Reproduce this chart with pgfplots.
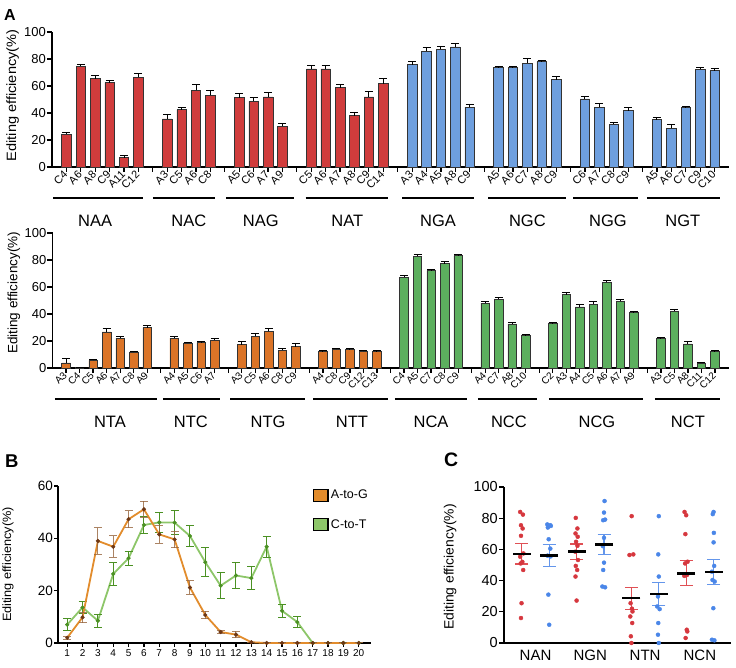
\documentclass[border=0pt]{standalone}
\usepackage{fontspec}
\setmainfont{Liberation Sans}
\usepackage{graphicx}
\usepackage{pgfplots}
\usepackage{pgfplotstable}
\pgfplotsset{compat=1.18, /pgf/number format/assume math mode=true}
\definecolor{cRed}{RGB}{208,60,60}
\definecolor{cBlue}{RGB}{110,159,222}
\definecolor{cOrange}{RGB}{219,116,39}
\definecolor{cGreen}{RGB}{92,175,94}
\definecolor{cAGline}{RGB}{226,140,44}
\definecolor{cAGdot}{RGB}{110,55,20}
\definecolor{cAGerr}{RGB}{150,100,60}
\definecolor{cCTline}{RGB}{141,198,105}
\definecolor{cCTdot}{RGB}{75,145,35}
\definecolor{cCR}{RGB}{214,55,62}
\definecolor{cCB}{RGB}{74,134,232}
\definecolor{cCRe}{RGB}{224,80,85}
\definecolor{cCBe}{RGB}{100,150,235}

\pgfplotstableread{
x y e
1 24.2 1.7
2 74.6 1.2
3 65.4 2.5
4 62.5 1.7
5 6.9 1.5
6 66.4 2.5
8 35.6 3.2
9 42.5 1.9
10 56.8 4.2
11 53.1 3.4
13 51.4 2.9
14 48.6 2.8
15 51.9 3.2
16 30.1 2.0
18 72.6 2.7
19 72.6 2.7
20 58.8 2.2
21 38.0 2.7
22 51.9 4.1
23 61.7 3.7
}\topred
\pgfplotstableread{
x y e
25 75.8 2.0
26 85.9 2.5
27 87.2 2.2
28 88.9 2.5
29 44.4 1.8
31 73.6 0.7
32 73.6 0.7
33 77.0 3.0
34 78.0 0.8
35 64.7 2.0
37 50.4 1.9
38 44.4 2.5
39 31.6 1.0
40 41.7 2.3
42 35.1 1.4
43 28.6 2.8
44 44.0 0.7
45 72.3 1.5
46 71.4 1.2
}\topblue
\pgfplotstableread{
x y e
1 3.7 3.0
2 0.3 0.2
3 5.7 0.7
4 26.7 2.2
5 22.0 1.0
6 11.6 0.7
7 29.9 1.5
9 22.2 0.8
10 18.5 0.5
11 18.8 0.7
12 20.7 0.8
14 17.3 2.2
15 23.5 2.2
16 27.2 2.2
17 13.3 1.5
18 15.8 2.2
20 12.1 0.5
21 13.8 0.8
22 13.6 0.7
23 12.3 0.8
24 12.1 0.7
}\botorange
\pgfplotstableread{
x y e
26 67.4 1.0
27 82.7 1.3
28 72.1 1.0
29 77.3 1.5
30 83.2 1.2
32 48.1 1.3
33 51.1 1.0
34 32.6 1.0
35 24.0 0.7
37 32.8 0.8
38 54.3 1.3
39 45.2 1.5
40 47.4 1.5
41 63.5 1.2
42 49.4 1.0
43 41.0 1.2
45 21.7 0.8
46 42.2 0.8
47 17.8 1.5
48 3.7 0.7
49 12.1 0.7
}\botgreen
\pgfplotstableread{
x y e
1 2.0 0.5
2 9.8 2.0
3 39.0 5.0
4 36.8 4.1
5 47.3 3.3
6 51.1 3.0
7 41.5 3.3
8 39.6 3.2
9 21.2 2.5
10 10.7 1.5
11 4.2 0.6
12 3.2 1.2
13 0.3 0
14 0 0
15 0 0
16 0 0
17 0 0
18 0 0
19 0 0
20 0 0
}\bAG
\pgfplotstableread{
x y e
1 7.0 2.2
2 13.6 2.4
3 8.5 2.4
4 26.4 4.5
5 32.4 2.7
6 45.1 3.3
7 46.1 3.9
8 46.0 4.7
9 40.9 3.9
10 30.9 5.6
11 21.9 5.0
12 25.8 4.9
13 24.8 4.5
14 36.8 4.0
15 12.3 2.5
16 8.0 2.1
17 0 0
18 0 0
19 0 0
20 0 0
}\bCT
\pgfplotstableread{
x y
0.94 84.0
1.04 82.3
0.97 75.5
1.03 73.4
0.97 68.7
1.06 57.4
0.94 55.3
1.02 52.0
0.96 51.0
1.05 46.8
0.99 25.5
0.97 16.0
2.97 80.2
3.03 73.4
2.96 70.2
3.04 68.1
2.98 64.9
3.03 62.3
2.95 58.5
3.05 53.2
2.97 49.4
3.02 46.8
2.96 42.6
3.00 27.2
5.01 81.3
4.93 56.4
5.07 56.8
4.97 25.5
5.02 22.0
5.04 20.2
4.96 17.0
5.03 12.8
4.98 4.3
5.00 0.0
6.94 84.0
7.00 81.9
6.97 69.8
7.05 52.1
6.96 51.0
7.03 43.6
6.93 43.0
7.02 8.5
7.04 7.4
6.98 3.2
}\cRedDots
\pgfplotstableread{
x y
1.93 76.0
2.04 75.5
2.06 75.0
1.95 74.0
1.98 66.5
2.04 60.5
1.94 56.0
2.05 55.5
1.97 31.0
2.00 11.7
4.02 91.0
4.00 83.6
3.97 78.7
4.04 79.1
4.00 67.4
3.96 62.1
4.00 51.5
3.97 46.8
3.94 36.2
4.04 35.7
6.00 81.3
5.98 56.8
6.00 42.6
5.97 29.8
5.94 23.4
6.03 21.7
5.98 12.8
5.97 5.3
6.00 0.0
8.00 84.0
7.97 82.6
8.01 70.6
8.00 64.5
8.02 49.4
7.94 45.7
8.04 39.4
7.96 40.4
7.99 22.3
7.94 2.1
8.03 1.7
}\cBlueDots
\pgfplotstableread{
x y e
1 57.2 6.6
3 58.5 4.9
5 28.7 7.0
7 44.7 8.0
}\cRedMean
\pgfplotstableread{
x y e
2 56.2 7.0
4 63.2 6.3
6 31.3 7.4
8 45.5 7.9
}\cBlueMean

\pgfplotsset{
  base/.style={scale only axis, axis lines=left, axis line style={line width=1.5pt,-},
    tick style={line width=1.2pt, black}, tick align=outside, major tick length=5pt,
    clip=false, enlargelimits=false},
  barerr/.style={error bars/.cd, y dir=plus, y explicit,
    error bar style={line width=1pt, black},
    error mark options={line width=1pt, black, mark size=4pt, rotate=90}},
}

\begin{document}
\begin{tikzpicture}
\useasboundingbox (0,0) rectangle (736pt,668pt);

% ---------- Panel A, top ----------
\begin{axis}[base, at={(52pt,501pt)}, anchor=south west, width=677pt, height=135pt,
  xmin=0, xmax=47, ymin=0, ymax=100, ytick={0,20,...,100},
  yticklabel style={font=\fontsize{13}{14}\selectfont, inner sep=1pt},
  xtick={1,...,46},
  xticklabels={C4,A6,A8,C9,A11,C12,{},A3,C5,A6,C8,{},A5,C6,A7,A9,{},C5,A6,A7,A8,C9,C14,{},A3,A4,A5,A8,C9,{},A5,A6,C7,A8,C9,{},C6,A7,C8,C9,{},A5,A6,C7,C9,C10},
  xticklabel style={rotate=45, anchor=east, font=\fontsize{11}{12}\selectfont, inner sep=1pt},
  every axis y label/.style={at={(axis description cs:-0.058,0.53)}, rotate=90, anchor=center},
  ylabel={\scalebox{1.08}[1]{\fontsize{13.5}{15}\selectfont Editing efficiency(\%)}}]
\addplot[ybar, bar width=9.5pt, bar shift=0pt, fill=cRed, draw=black!80, line width=0.6pt, barerr] table[x=x,y=y,y error=e]{\topred};
\addplot[ybar, bar width=9.5pt, bar shift=0pt, fill=cBlue, draw=black!80, line width=0.6pt, barerr] table[x=x,y=y,y error=e]{\topblue};
\draw[line width=2pt] (axis cs:0.1,-23) -- (axis cs:6.35,-23);
\draw[line width=2pt] (axis cs:7.0,-23) -- (axis cs:11.35,-23);
\draw[line width=2pt] (axis cs:12.1,-23) -- (axis cs:16.8,-23);
\draw[line width=2pt] (axis cs:17.6,-23) -- (axis cs:23.3,-23);
\draw[line width=2pt] (axis cs:24.3,-23) -- (axis cs:29.3,-23);
\draw[line width=2pt] (axis cs:30.3,-23) -- (axis cs:35.7,-23);
\draw[line width=2pt] (axis cs:36.2,-23) -- (axis cs:40.7,-23);
\draw[line width=2pt] (axis cs:41.3,-23) -- (axis cs:46.4,-23);
\begin{scope}[every node/.style={font=\fontsize{16.5}{18}\selectfont}]
\node at (axis cs:3.0,-40) {NAA};
\node at (axis cs:9.5,-40) {NAC};
\node at (axis cs:14.5,-40) {NAG};
\node at (axis cs:20.5,-40) {NAT};
\node at (axis cs:26.8,-40) {NGA};
\node at (axis cs:33.0,-40) {NGC};
\node at (axis cs:38.6,-40) {NGG};
\node at (axis cs:43.8,-40) {NGT};
\end{scope}
\end{axis}

% ---------- Panel A, bottom ----------
\begin{axis}[base, at={(52.5pt,300pt)}, anchor=south west, width=676pt, height=135pt,
  xmin=0, xmax=50, ymin=0, ymax=100, ytick={0,20,...,100},
  yticklabel style={font=\fontsize{13}{14}\selectfont, inner sep=1pt},
  xtick={1,...,49},
  xticklabels={A3,C4,C5,A6,A7,C8,A9,{},A4,A5,C6,A7,{},A3,C5,A6,C8,C9,{},A4,C8,C9,C12,C13,{},C4,A5,C7,C8,C9,{},A4,C7,A8,C10,{},C2,A3,A4,C5,A6,A7,A9,{},A3,C5,A8,C11,C12},
  xticklabel style={rotate=45, anchor=east, font=\fontsize{10}{11}\selectfont, inner sep=1pt},
  every axis y label/.style={at={(axis description cs:-0.057,0.556)}, rotate=90, anchor=center},
  ylabel={\fontsize{13.5}{15}\selectfont Editing efficiency(\%)}]
\addplot[ybar, bar width=8.5pt, bar shift=0pt, fill=cOrange, draw=black!80, line width=0.6pt, barerr] table[x=x,y=y,y error=e]{\botorange};
\addplot[ybar, bar width=8.5pt, bar shift=0pt, fill=cGreen, draw=black!80, line width=0.6pt, barerr] table[x=x,y=y,y error=e]{\botgreen};
\draw[line width=2pt] (axis cs:0.18,-23) -- (axis cs:7.73,-23);
\draw[line width=2pt] (axis cs:8.17,-23) -- (axis cs:12.39,-23);
\draw[line width=2pt] (axis cs:13.13,-23) -- (axis cs:18.68,-23);
\draw[line width=2pt] (axis cs:19.27,-23) -- (axis cs:24.81,-23);
\draw[line width=2pt] (axis cs:25.33,-23) -- (axis cs:30.66,-23);
\draw[line width=2pt] (axis cs:31.47,-23) -- (axis cs:35.83,-23);
\draw[line width=2pt] (axis cs:36.72,-23) -- (axis cs:43.68,-23);
\draw[line width=2pt] (axis cs:44.56,-23) -- (axis cs:49.37,-23);
\begin{scope}[every node/.style={font=\fontsize{16.5}{18}\selectfont}]
\node at (axis cs:4.25,-40) {NTA};
\node at (axis cs:10.24,-40) {NTC};
\node at (axis cs:15.94,-40) {NTG};
\node at (axis cs:22.15,-40) {NTT};
\node at (axis cs:28.0,-40) {NCA};
\node at (axis cs:33.76,-40) {NCC};
\node at (axis cs:40.27,-40) {NCG};
\node at (axis cs:47.0,-40) {NCT};
\end{scope}
\end{axis}

% ---------- Panel B ----------
\begin{axis}[base, at={(58pt,25pt)}, anchor=south west, width=313pt, height=157pt,
  xmin=0.4, xmax=20.8, ymin=0, ymax=60, ytick={0,20,40,60}, xtick={1,...,20},
  major tick length=4pt,
  yticklabel style={font=\fontsize{13.5}{15}\selectfont, inner sep=1pt},
  xticklabel style={font=\fontsize{10}{11}\selectfont, inner sep=2pt},
  every axis y label/.style={at={(axis description cs:-0.16,0.5)}, rotate=90, anchor=center},
  ylabel={\scalebox{1.06}[1]{\fontsize{12}{14}\selectfont Editing efficiency(\%)}},
  legend style={at={(rel axis cs:0.815,0.99)}, anchor=north west, draw=none, fill=none,
    font=\fontsize{12.5}{14}\selectfont, row sep=14pt, inner sep=0pt, nodes={inner sep=2.5pt}},
  legend cell align=left,
  legend image code/.code={\draw[#1, draw=black, line width=1.2pt] (0pt,-6pt) rectangle (14pt,6pt);}]
\addlegendimage{fill=cAGline}
\addlegendentry{A-to-G}
\addlegendimage{fill=cCTline}
\addlegendentry{C-to-T}
\addplot[forget plot, color=cCTline, line width=1.8pt, mark=*, mark size=1.9pt,
  mark options={fill=cCTdot, draw=cCTdot, line width=0.4pt},
  error bars/.cd, y dir=both, y explicit, error bar style={line width=1pt, cCTdot},
  error mark options={line width=1pt, cCTdot, mark size=4pt, rotate=90}]
  table[x=x,y=y,y error=e]{\bCT};
\addplot[forget plot, color=cAGline, line width=1.8pt, mark=*, mark size=1.9pt,
  mark options={fill=cAGdot, draw=cAGdot, line width=0.4pt},
  error bars/.cd, y dir=both, y explicit, error bar style={line width=1pt, cAGerr, opacity=0.8},
  error mark options={line width=1pt, cAGerr, mark size=4pt, rotate=90}]
  table[x=x,y=y,y error=e]{\bAG};
\end{axis}

% ---------- Panel C ----------
\begin{axis}[base, at={(504pt,25pt)}, anchor=south west, width=227.4pt, height=156pt,
  xmin=0.35, xmax=8.65, ymin=0, ymax=100, ytick={0,20,...,100},
  xtick={1.5,3.5,5.5,7.5}, xticklabels={NAN,NGN,NTN,NCN},
  x tick style={draw=none},
  yticklabel style={font=\fontsize{14.5}{16}\selectfont, inner sep=1pt},
  xticklabel style={font=\fontsize{15}{17}\selectfont, inner sep=2pt},
  every axis y label/.style={at={(axis description cs:-0.237,0.487)}, rotate=90, anchor=center},
  ylabel={\scalebox{1.03}[1]{\fontsize{13.5}{15}\selectfont Editing efficiency(\%)}}]
\addplot[only marks, mark=*, mark size=2pt, color=cCR] table[x=x,y=y]{\cRedDots};
\addplot[only marks, mark=*, mark size=2pt, color=cCB] table[x=x,y=y]{\cBlueDots};
\addplot[only marks, mark=-, mark size=9pt, mark options={black, line width=2.5pt},
  error bars/.cd, y dir=both, y explicit, error bar style={line width=1.2pt, cCRe},
  error mark options={line width=1.2pt, cCRe, mark size=6.5pt, rotate=90}]
  table[x=x,y=y,y error=e]{\cRedMean};
\addplot[only marks, mark=-, mark size=9pt, mark options={black, line width=2.5pt},
  error bars/.cd, y dir=both, y explicit, error bar style={line width=1.2pt, cCBe},
  error mark options={line width=1.2pt, cCBe, mark size=6.5pt, rotate=90}]
  table[x=x,y=y,y error=e]{\cBlueMean};
\end{axis}

% panel letters
\node[font=\bfseries\fontsize{16}{18}\selectfont, anchor=north west, inner sep=0pt] at (4pt,659pt) {A};
\node[font=\bfseries\fontsize{18.5}{20}\selectfont, anchor=north west, inner sep=0pt] at (5pt,213pt) {B};
\node[font=\bfseries\fontsize{19.5}{21}\selectfont, anchor=north west, inner sep=0pt] at (444pt,215pt) {C};
\end{tikzpicture}
\end{document}
